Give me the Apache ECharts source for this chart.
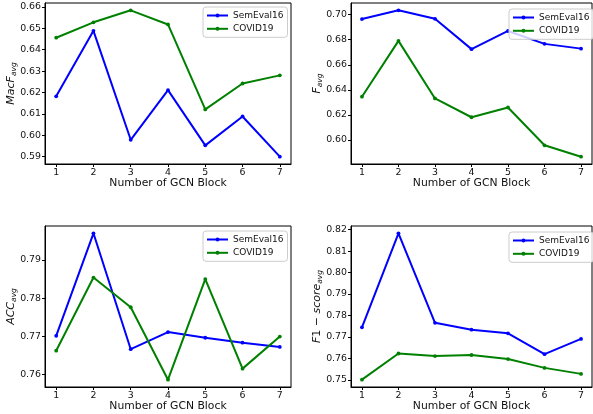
<!DOCTYPE html>
<html>
<head>
<meta charset="utf-8">
<script src="https://cdn.jsdelivr.net/npm/echarts@6/dist/echarts.min.js"></script>
<style>html,body{margin:0;padding:0;background:#fff;}#c{width:593px;height:414px;}</style>
</head>
<body>
<div id="c"></div>
<script>
const blocks = [1, 2, 3, 4, 5, 6, 7];
const xTicks = [1, 2, 3, 4, 5, 6, 7];

const macfSem = [0.6182, 0.6488, 0.5979, 0.6211, 0.5953, 0.6088, 0.5900];
const macfCov = [0.6456, 0.6528, 0.6584, 0.6518, 0.6121, 0.6242, 0.6280];
const macfTicks = [0.59, 0.60, 0.61, 0.62, 0.63, 0.64, 0.65, 0.66];

const favgSem = [0.6965, 0.7035, 0.6967, 0.6725, 0.6870, 0.6767, 0.6729];
const favgCov = [0.6345, 0.6791, 0.6331, 0.6181, 0.6259, 0.5957, 0.5866];
const favgTicks = [0.60, 0.62, 0.64, 0.66, 0.68, 0.70];

const accSem = [0.7701, 0.7970, 0.7666, 0.7711, 0.7696, 0.7683, 0.7672];
const accCov = [0.7662, 0.7854, 0.7776, 0.7586, 0.7850, 0.7615, 0.7699];
const accTicks = [0.76, 0.77, 0.78, 0.79];

const f1Sem = [0.7745, 0.8183, 0.7766, 0.7734, 0.7717, 0.7620, 0.7691];
const f1Cov = [0.7501, 0.7623, 0.7611, 0.7616, 0.7597, 0.7556, 0.7528];
const f1Ticks = [0.75, 0.76, 0.77, 0.78, 0.79, 0.80, 0.81, 0.82];

const FONT = 'DejaVu Sans';
const pairs = v => blocks.map((b, i) => [b, v[i]]);
function span(a, b) {
  const all = a.concat(b);
  const lo = Math.min(...all), hi = Math.max(...all);
  const m = (hi - lo) * 0.05;
  return [lo - m, hi + m];
}

const grids = [
  {left: 45, top: 3, width: 246, height: 161},
  {left: 351, top: 3, width: 241, height: 161},
  {left: 45, top: 226, width: 246, height: 161},
  {left: 351, top: 226, width: 241, height: 161}
];
const panels = [
  {sem: macfSem, cov: macfCov, ticks: macfTicks, name: '{i|MacF}{s|avg}'},
  {sem: favgSem, cov: favgCov, ticks: favgTicks, name: '{i|F}{s|avg}'},
  {sem: accSem, cov: accCov, ticks: accTicks, name: '{i|ACC}{s|avg}'},
  {sem: f1Sem, cov: f1Cov, ticks: f1Ticks, name: '{i|F}{r|1 − }{i|score}{s|avg}'}
];
const legendPos = [
  {left: 203, top: 7}, {left: 509, top: 9}, {left: 203, top: 231}, {left: 509, top: 232}
];

const option = {
  animation: false,
  backgroundColor: '#fff',
  grid: grids.map(g => Object.assign({show: true, borderColor: '#000', borderWidth: 1, backgroundColor: 'transparent', containLabel: false}, g)),
  xAxis: panels.map((p, i) => ({
    type: 'value', gridIndex: i, min: 0.7, max: 7.3,
    name: 'Number of GCN Block', nameLocation: 'middle', nameGap: 13,
    nameTextStyle: {fontFamily: FONT, fontSize: 10.8, color: '#111'},
    axisLine: {show: true, onZero: false, lineStyle: {color: '#000', width: 1}},
    axisTick: {show: true, length: 3, customValues: xTicks, lineStyle: {color: '#000'}},
    axisLabel: {customValues: xTicks, margin: 4, fontFamily: FONT, fontSize: 9.4, color: '#111'},
    splitLine: {show: false}
  })),
  yAxis: panels.map((p, i) => {
    const r = span(p.sem, p.cov);
    return {
      type: 'value', gridIndex: i, min: r[0], max: r[1],
      name: p.name, nameLocation: 'middle', nameRotate: 90, nameGap: 27,
      nameMoveOverlap: false,
      nameTextStyle: {
        fontFamily: FONT, color: '#111',
        rich: {
          i: {fontFamily: FONT, fontStyle: 'italic', fontSize: 11, color: '#111'},
          r: {fontFamily: FONT, fontSize: 11, color: '#111'},
          s: {fontFamily: FONT, fontStyle: 'italic', fontSize: 7.5, color: '#111', verticalAlign: 'bottom', padding: [5, 0, 0, 0]}
        }
      },
      axisLine: {show: true, onZero: false, lineStyle: {color: '#000', width: 1}},
      axisTick: {show: true, length: 3, customValues: p.ticks, lineStyle: {color: '#000'}},
      axisLabel: {customValues: p.ticks, margin: 4, fontFamily: FONT, fontSize: 9.4, color: '#111',
        formatter: v => v.toFixed(2)},
      splitLine: {show: false}
    };
  }),
  legend: legendPos.map(pos => ({
    left: pos.left, top: pos.top, orient: 'vertical',
    data: ['SemEval16', 'COVID19'],
    itemWidth: 21, itemHeight: 5, itemGap: 2.3,
    padding: [3, 4, 3, 3],
    backgroundColor: 'rgba(255,255,255,0.8)',
    borderColor: '#cccccc', borderWidth: 1, borderRadius: 3,
    textStyle: {fontFamily: FONT, fontSize: 9, color: '#111', lineHeight: 11},
    selectedMode: false
  })),
  series: []
};
panels.forEach((p, i) => {
  option.series.push({
    type: 'line', name: 'SemEval16', xAxisIndex: i, yAxisIndex: i,
    data: pairs(p.sem), color: '#0000ff', symbol: 'circle', symbolSize: 3.8,
    lineStyle: {width: 2, color: '#0000ff'}, itemStyle: {color: '#0000ff'}
  });
  option.series.push({
    type: 'line', name: 'COVID19', xAxisIndex: i, yAxisIndex: i,
    data: pairs(p.cov), color: '#008000', symbol: 'circle', symbolSize: 3.8,
    lineStyle: {width: 2, color: '#008000'}, itemStyle: {color: '#008000'}
  });
});

const chart = echarts.init(document.getElementById('c'), null, {renderer: 'canvas'});
chart.setOption(option);
</script>
</body>
</html>
